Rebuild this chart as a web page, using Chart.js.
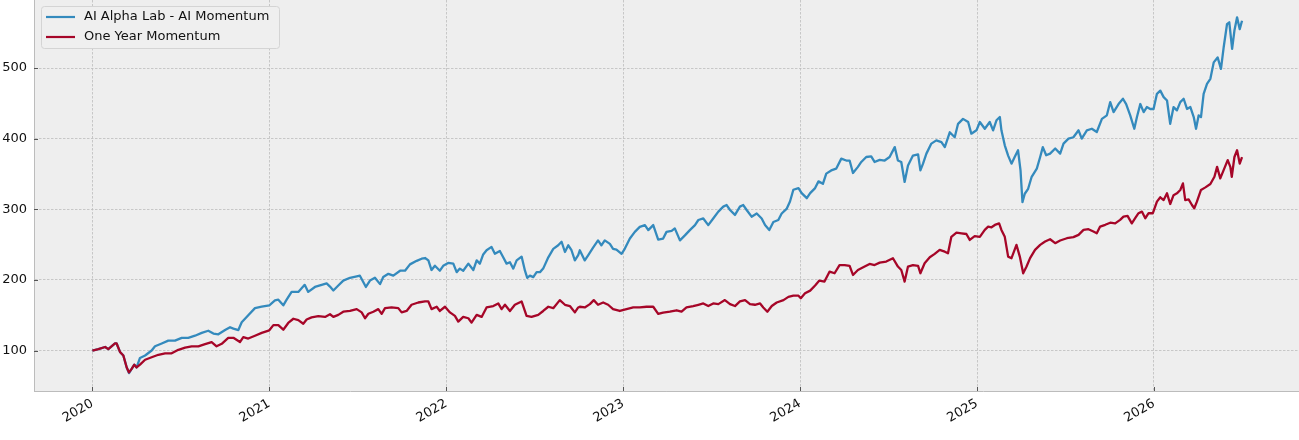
<!DOCTYPE html>
<html lang="en">
<head>
  <meta charset="UTF-8">
  <title>AI Alpha Lab - AI Momentum vs One Year Momentum</title>
  <style>
    html, body {
      margin: 0;
      padding: 0;
      background: #ffffff;
    }
    #wrap {
      width: 1299px;
      height: 440px;
    }
  </style>
</head>
<body>
  <div id="wrap">
    <canvas id="growthChart" width="1299" height="440"></canvas>
  </div>

  <script src="https://cdn.jsdelivr.net/npm/chart.js"></script>
  <script>
    // dates are decimal years, values are growth of 100
    const alphaDates = [
      2020.000, 2020.034, 2020.072, 2020.090, 2020.128, 2020.137, 2020.156, 2020.175, 2020.194, 2020.207, 2020.222, 2020.237, 2020.250,
      2020.269, 2020.298, 2020.335, 2020.354, 2020.392, 2020.429, 2020.467, 2020.505, 2020.542, 2020.580, 2020.618, 2020.655, 2020.684,
      2020.712, 2020.750, 2020.778, 2020.797, 2020.825, 2020.844, 2020.881, 2020.919, 2020.957, 2021.000, 2021.032, 2021.051, 2021.079,
      2021.098, 2021.126, 2021.164, 2021.200, 2021.220, 2021.258, 2021.296, 2021.324,
      2021.343, 2021.362, 2021.390, 2021.418, 2021.456, 2021.494, 2021.512, 2021.531, 2021.546, 2021.569, 2021.597, 2021.626, 2021.644,
      2021.673, 2021.701, 2021.739, 2021.767, 2021.795, 2021.833, 2021.861, 2021.880, 2021.899, 2021.917, 2021.936, 2021.964, 2021.983,
      2022.011, 2022.040, 2022.059, 2022.077, 2022.096, 2022.125, 2022.153, 2022.172, 2022.190, 2022.209, 2022.228, 2022.256, 2022.275,
      2022.303, 2022.322, 2022.341, 2022.360, 2022.379, 2022.398, 2022.426, 2022.445, 2022.458, 2022.473, 2022.492, 2022.511, 2022.530,
      2022.548, 2022.577, 2022.605, 2022.633, 2022.652, 2022.671, 2022.690, 2022.708, 2022.727, 2022.746,
      2022.755, 2022.783, 2022.802, 2022.830, 2022.858, 2022.877, 2022.896, 2022.925, 2022.943, 2022.962, 2022.991, 2023.009, 2023.038,
      2023.066, 2023.094, 2023.123, 2023.142, 2023.170, 2023.198, 2023.226, 2023.245, 2023.274, 2023.292, 2023.321, 2023.349, 2023.377,
      2023.406, 2023.425, 2023.453, 2023.481, 2023.509, 2023.538, 2023.566, 2023.585, 2023.604, 2023.632, 2023.660, 2023.679, 2023.698,
      2023.726, 2023.755, 2023.783, 2023.802, 2023.826, 2023.849, 2023.877, 2023.896, 2023.925, 2023.943, 2023.962, 2023.991, 2024.009,
      2024.038, 2024.057, 2024.085, 2024.104,
      2024.129, 2024.148, 2024.176, 2024.204, 2024.233, 2024.261, 2024.280, 2024.299, 2024.327, 2024.346, 2024.374, 2024.402, 2024.421,
      2024.450, 2024.478, 2024.506, 2024.535, 2024.553, 2024.572, 2024.591, 2024.610, 2024.638, 2024.667, 2024.680, 2024.695, 2024.714,
      2024.742, 2024.770, 2024.799, 2024.818, 2024.846, 2024.874, 2024.893, 2024.921, 2024.950, 2024.968, 2024.997, 2025.016, 2025.044,
      2025.072, 2025.091, 2025.110, 2025.129, 2025.138, 2025.157, 2025.176, 2025.195, 2025.213, 2025.232, 2025.246, 2025.257, 2025.270,
      2025.289,
      2025.309, 2025.338, 2025.357, 2025.372, 2025.391, 2025.413, 2025.442, 2025.470, 2025.489, 2025.517, 2025.545, 2025.574, 2025.592,
      2025.621, 2025.649, 2025.677, 2025.706, 2025.734, 2025.753, 2025.772, 2025.800, 2025.825, 2025.843, 2025.866, 2025.889, 2025.904,
      2025.923, 2025.942, 2025.960, 2025.979, 2025.998, 2026.017, 2026.036, 2026.055, 2026.074, 2026.092, 2026.111, 2026.130, 2026.149,
      2026.168, 2026.187, 2026.206, 2026.225, 2026.238, 2026.253, 2026.266, 2026.281, 2026.300, 2026.319, 2026.338, 2026.360, 2026.379,
      2026.394, 2026.413, 2026.426, 2026.442, 2026.455, 2026.470, 2026.485, 2026.498
    ];
    const alphaValues = [
      100, 102, 105, 102, 110, 110, 98, 93, 76, 68, 74, 80, 76,
      89.5, 93, 100, 106, 110, 114, 114, 118, 118, 121, 125, 128, 124,
      123, 129, 133, 131, 129, 140, 150, 160, 162, 164, 171, 172, 164,
      172, 183, 183, 193, 183, 190, 193, 195,
      190.5, 185, 192, 199, 203, 205, 206, 197, 190, 199, 203, 194, 204,
      208.6, 206, 213, 213, 222, 227, 230, 231, 227.6, 214, 220, 213, 220,
      224, 223, 211, 216, 213, 223, 214, 227.6, 223, 236, 242, 246.7, 237,
      241, 232, 223, 225, 216, 227.6, 233, 213, 203, 206, 204, 211, 211,
      216, 232, 244, 249, 254, 239.5, 249, 242, 227.6, 235,
      242, 227.6, 234.8, 245.7, 256, 249, 256, 251, 244, 243, 237, 244, 258.6,
      268, 275, 277.6, 270.5, 277.6, 257, 258.6, 268, 269.5, 273, 256, 263, 270.5,
      277.6, 284.8, 287, 277.6, 287, 296.7, 303.8, 306, 299, 292, 303.8, 306, 299,
      289.5, 294, 287, 277.6, 270.5, 282, 284.8, 294, 301, 311, 327.6, 330, 322.9,
      315.7, 322.9, 330, 339.5,
      336, 350.5, 355, 357.5, 371.7, 369, 369, 351.4, 360, 367, 374, 375, 367,
      370, 369, 374, 388, 369, 367, 338.7, 362, 376, 377.8, 355, 364.6, 378.8,
      393, 397.6, 395, 388, 409, 402, 421, 428, 423.6, 407, 411.8, 423.6, 414,
      423.6, 411.8, 426, 430.7, 411.8, 390.6, 376, 364.6, 374, 383.5, 355, 310, 322,
      329,
      346, 357.6, 374, 388, 376.5, 378.8, 386, 378.8, 393, 400, 402, 411.8, 400,
      411.8, 414, 409.4, 428, 433, 451.8, 437.6, 449, 456.5, 449, 433, 414, 430.6,
      449, 437.6, 444.7, 442, 442, 463.5, 468, 458.8, 454, 421, 444.7, 440, 451.8,
      456.5, 442, 444.7, 430.6, 414, 433, 430.6, 463.5, 477.6, 484.7, 508, 515, 498.8,
      529, 562, 564.7, 527, 553, 571.8, 555, 567
    ];

    const momDates = [
      2020.000, 2020.034, 2020.072, 2020.090, 2020.128, 2020.137, 2020.156, 2020.175, 2020.194, 2020.207, 2020.222, 2020.237, 2020.250,
      2020.269, 2020.298, 2020.335, 2020.373, 2020.411, 2020.448, 2020.486, 2020.524, 2020.561, 2020.599, 2020.637, 2020.674, 2020.702,
      2020.731, 2020.768, 2020.797, 2020.834, 2020.853, 2020.881, 2020.919, 2020.957, 2021.000, 2021.023, 2021.051, 2021.079, 2021.107,
      2021.136, 2021.164, 2021.192, 2021.211, 2021.239, 2021.277, 2021.315,
      2021.343, 2021.362, 2021.390, 2021.418, 2021.456, 2021.494, 2021.522, 2021.541, 2021.560, 2021.588, 2021.616, 2021.635, 2021.654,
      2021.691, 2021.729, 2021.748, 2021.776, 2021.804, 2021.842, 2021.880, 2021.899, 2021.917, 2021.946, 2021.964, 2021.993, 2022.021,
      2022.049, 2022.068, 2022.096, 2022.125, 2022.143, 2022.172, 2022.200, 2022.228, 2022.266, 2022.294, 2022.313, 2022.332, 2022.360,
      2022.388, 2022.426, 2022.454, 2022.482, 2022.520, 2022.548, 2022.577, 2022.605, 2022.642, 2022.671, 2022.699, 2022.727, 2022.746,
      2022.755, 2022.783, 2022.812, 2022.834, 2022.858, 2022.887, 2022.915, 2022.943, 2022.981, 2023.019, 2023.057, 2023.094, 2023.132,
      2023.170, 2023.198, 2023.226, 2023.264, 2023.302, 2023.330, 2023.358, 2023.396, 2023.425, 2023.453, 2023.481, 2023.509, 2023.538,
      2023.575, 2023.604, 2023.632, 2023.660, 2023.689, 2023.717, 2023.745, 2023.774, 2023.792, 2023.815, 2023.840, 2023.868, 2023.906,
      2023.934, 2023.962, 2023.991, 2024.004, 2024.028, 2024.057, 2024.085, 2024.109,
      2024.138, 2024.167, 2024.195, 2024.223, 2024.252, 2024.280, 2024.299, 2024.327, 2024.365, 2024.393, 2024.421, 2024.450, 2024.487,
      2024.525, 2024.553, 2024.572, 2024.591, 2024.610, 2024.638, 2024.667, 2024.680, 2024.704, 2024.733, 2024.761, 2024.789, 2024.818,
      2024.836, 2024.855, 2024.884, 2024.912, 2024.940, 2024.959, 2024.987, 2025.016, 2025.044, 2025.063, 2025.082, 2025.101, 2025.125,
      2025.138, 2025.157, 2025.176, 2025.195, 2025.223, 2025.242, 2025.261, 2025.280,
      2025.300, 2025.328, 2025.357, 2025.385, 2025.413, 2025.442, 2025.470, 2025.508, 2025.545, 2025.574, 2025.602, 2025.630, 2025.658,
      2025.677, 2025.696, 2025.725, 2025.753, 2025.781, 2025.809, 2025.828, 2025.851, 2025.875, 2025.894, 2025.913, 2025.932, 2025.951,
      2025.970, 2025.994, 2026.017, 2026.036, 2026.055, 2026.074, 2026.092, 2026.111, 2026.130, 2026.149, 2026.164, 2026.177, 2026.196,
      2026.215, 2026.228, 2026.243, 2026.266, 2026.291, 2026.319, 2026.342, 2026.357, 2026.375, 2026.394, 2026.417, 2026.432, 2026.440,
      2026.455, 2026.470, 2026.485, 2026.498
    ];
    const momValues = [
      100, 102, 105, 102, 110, 110, 98, 93, 76, 69, 74, 80, 76,
      80, 87, 90.5, 94, 96, 96, 101, 104, 106, 106, 109, 112, 106,
      109.5, 118, 118, 112, 119, 117, 121, 125, 128.6, 136, 136, 129.5, 139,
      145, 143, 138, 144, 147, 148.6, 147.6,
      151.4, 147.6, 150.5, 155, 156, 158.6, 154, 145.7, 152, 155, 158.6, 152, 160,
      161, 160, 154, 156, 164.8, 168, 169.5, 169.5, 158.6, 162, 156, 162, 154,
      149, 141, 147.6, 145.7, 139.5, 150.5, 147.6, 161, 163, 166.7, 158.6, 164.8, 156,
      164.8, 169.5, 149, 147.6, 150.5, 156, 162, 160, 171.4, 164.8, 163, 154, 161,
      162, 161, 165.7, 171.4, 164.8, 168, 164.8, 158.6, 156, 158.6, 161, 161, 162,
      162, 152, 153.8, 155, 157, 155, 161, 163, 164.8, 166.7, 163, 166.7, 165.7,
      171.4, 165.7, 163, 169.5, 171.4, 165.7, 164.8, 166.7, 161, 155, 163, 168, 171.4,
      176, 177.6, 177.6, 174, 181, 184.8, 192, 199,
      197.6, 211.8, 209.4, 221, 221, 219.8, 207, 214, 218.9, 222.6, 221, 224.5, 226,
      230.7, 218.9, 214, 197.6, 218.9, 221, 219.8, 209.4, 223.6, 232, 236.8, 242.5, 240,
      237.7, 261, 267, 266, 265, 256.6, 262, 261, 270.8, 275.5, 274.5, 277.8, 280,
      270.8, 261, 233, 230.7, 249.5, 233, 209.4, 218.9,
      230.8, 242.6, 249.6, 254.4, 257.6, 252, 255.8, 259, 260.5, 263.8, 270.8, 271.8, 268.5,
      266, 275.5, 278, 281, 280, 285, 289.6, 290.6, 280, 287.3, 294.4, 296.7, 287.3,
      294.4, 294.4, 310.8, 317, 313, 322.6, 307.5, 320, 322.6, 327.3, 336.7, 313, 314,
      306, 301.4, 310.8, 327.3, 331, 335.8, 346, 360, 343.8, 355.5, 369.6, 360, 346,
      374, 383.5, 364.7, 374
    ];

    const seriesNames = ['AI Alpha Lab - AI Momentum', 'One Year Momentum'];
    const seriesColors = ['#348ABD', '#A60628'];
    const yearTicks = [2020, 2021, 2022, 2023, 2024, 2025, 2026];
    const valueTicks = [100, 200, 300, 400, 500];

    const toPoints = (xs, ys) => xs.map((x, i) => ({ x: x, y: ys[i] }));

    const FONT = '"DejaVu Sans", "Liberation Sans", sans-serif';

    // axes background, inward ticks and the boxed legend (bmh look)
    const bmhPlugin = {
      id: 'bmhPlugin',
      beforeDraw(chart) {
        const a = chart.chartArea;
        const ctx = chart.ctx;
        ctx.save();
        ctx.fillStyle = '#eeeeee';
        ctx.fillRect(a.left, a.top, a.right - a.left, a.bottom - a.top);
        ctx.restore();
      },
      afterDraw(chart) {
        const ctx = chart.ctx;
        const a = chart.chartArea;
        const xs = chart.scales.x, ys = chart.scales.y;
        ctx.save();
        ctx.strokeStyle = '#555555';
        ctx.lineWidth = 1;
        ctx.beginPath();
        yearTicks.forEach(v => {
          const px = Math.round(xs.getPixelForValue(v)) + 0.5;
          ctx.moveTo(px, a.bottom);
          ctx.lineTo(px, a.bottom - 4);
        });
        valueTicks.forEach(v => {
          const py = Math.round(ys.getPixelForValue(v)) + 0.5;
          ctx.moveTo(a.left, py);
          ctx.lineTo(a.left + 4, py);
        });
        ctx.stroke();

        // legend
        const bx = 41.5, by = 6.5, bw = 238, bh = 42;
        ctx.beginPath();
        ctx.roundRect(bx, by, bw, bh, 3);
        ctx.fillStyle = '#efefef';
        ctx.fill();
        ctx.strokeStyle = '#d4d4d4';
        ctx.stroke();
        ctx.font = '13px ' + FONT;
        ctx.textBaseline = 'middle';
        chart.data.datasets.forEach((ds, i) => {
          const y = 17 + i * 20;
          ctx.strokeStyle = ds.borderColor;
          ctx.lineWidth = 2.2;
          ctx.beginPath();
          ctx.moveTo(46, y);
          ctx.lineTo(75, y);
          ctx.stroke();
          ctx.fillStyle = '#111111';
          ctx.fillText(ds.label, 84, y);
        });
        ctx.restore();
      }
    };

    const ctx = document.getElementById('growthChart').getContext('2d');
    new Chart(ctx, {
      type: 'line',
      data: {
        datasets: [
          {
            label: seriesNames[0],
            data: toPoints(alphaDates, alphaValues),
            borderColor: seriesColors[0],
            borderWidth: 2.3,
            pointRadius: 0,
            tension: 0,
            borderJoinStyle: 'round',
            order: 1
          },
          {
            label: seriesNames[1],
            data: toPoints(momDates, momValues),
            borderColor: seriesColors[1],
            borderWidth: 2.3,
            pointRadius: 0,
            tension: 0,
            borderJoinStyle: 'round',
            order: 0
          }
        ]
      },
      options: {
        responsive: false,
        animation: false,
        devicePixelRatio: 1,
        layout: { padding: 0 },
        plugins: {
          legend: { display: false },
          tooltip: { enabled: false }
        },
        scales: {
          x: {
            type: 'linear',
            min: 2019.67,
            max: 2026.82,
            afterBuildTicks: s => { s.ticks = yearTicks.map(v => ({ value: v })); },
            afterFit: s => {
              s.height = 49;
              s.paddingLeft = 0;
              s.paddingRight = 0;
            },
            ticks: {
              autoSkip: false,
              minRotation: 30,
              maxRotation: 30,
              padding: 5,
              color: '#111111',
              font: { family: FONT, size: 13 },
              callback: v => String(v)
            },
            grid: { color: '#bdbdbd', lineWidth: 0.8, drawTicks: false },
            border: { color: '#bcbcbc', width: 1, dash: [2.5, 1.5] }
          },
          y: {
            type: 'linear',
            min: 42.7,
            max: 596.3,
            afterBuildTicks: s => { s.ticks = valueTicks.map(v => ({ value: v })); },
            afterFit: s => {
              s.width = 34;
              s.paddingTop = 0;
              s.paddingBottom = 0;
            },
            ticks: {
              padding: 7,
              color: '#111111',
              font: { family: FONT, size: 13 },
              callback: v => String(v)
            },
            grid: { color: '#bdbdbd', lineWidth: 0.8, drawTicks: false },
            border: { color: '#bcbcbc', width: 1, dash: [2.5, 1.5] }
          }
        }
      },
      plugins: [bmhPlugin]
    });
  </script>
</body>
</html>
